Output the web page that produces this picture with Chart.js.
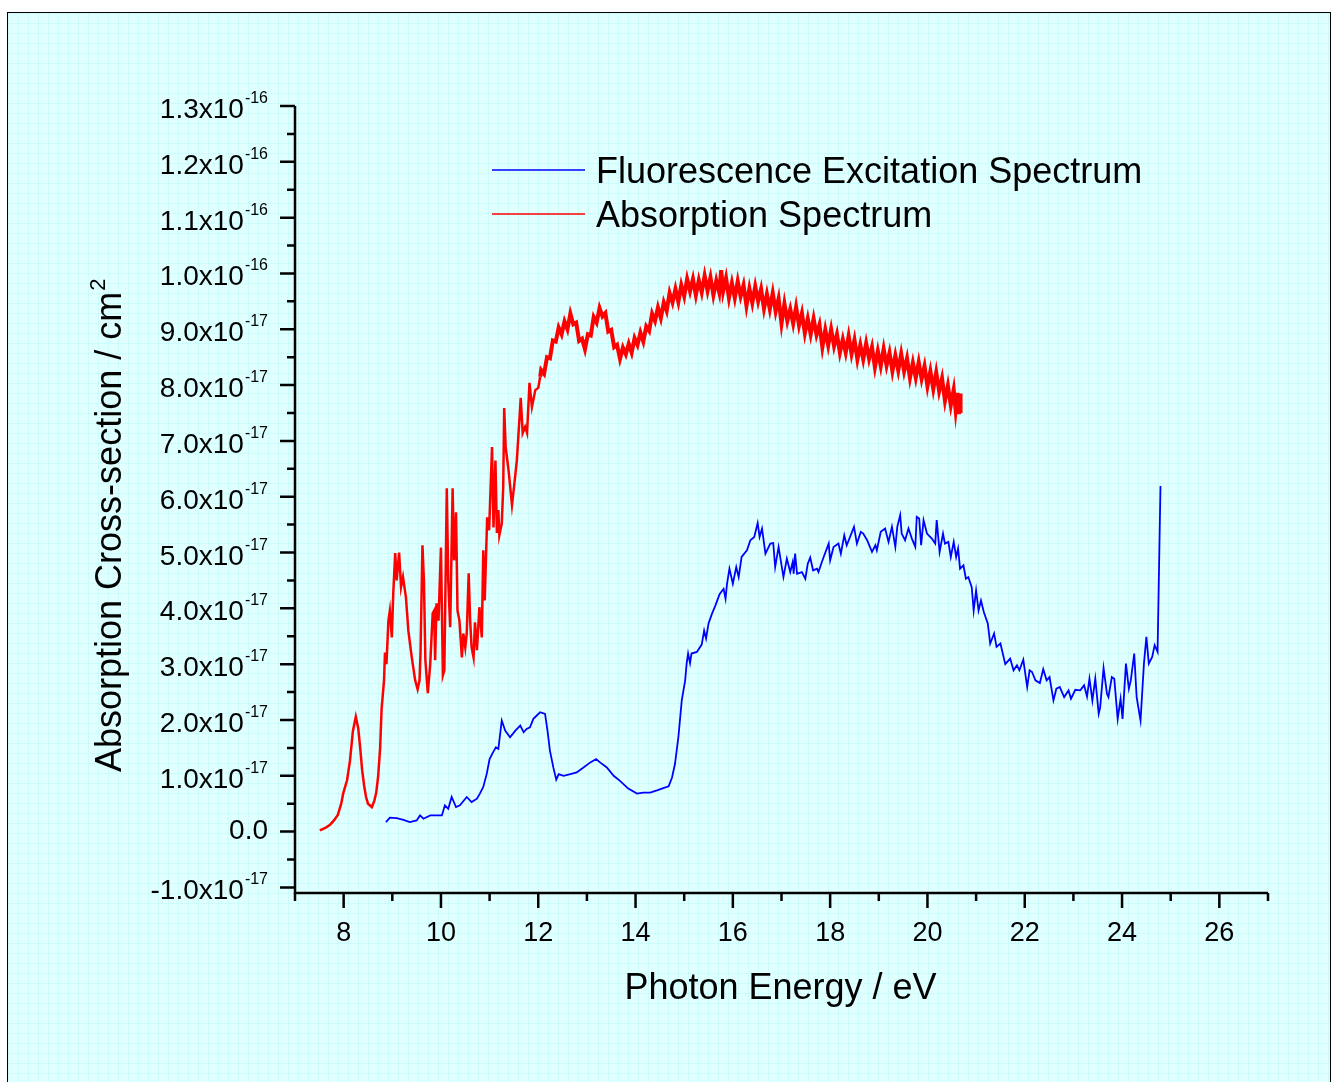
<!DOCTYPE html>
<html>
<head>
<meta charset="utf-8">
<script src="https://cdn.jsdelivr.net/npm/chart.js@4"></script>
<style>
  html, body { margin: 0; padding: 0; background: #fff; }
  #frame {
    position: absolute; left: 7px; top: 12px; width: 1322px; height: 1080px;
    border: 1px solid #000;
    background-color: #e0ffff;
    background-image:
      linear-gradient(to right, rgba(150, 240, 245, 0.25) 1px, transparent 1px),
      linear-gradient(to bottom, rgba(150, 240, 245, 0.25) 1px, transparent 1px);
    background-size: 10px 10px;
  }
  #plot { position: absolute; left: 0; top: 0; }
</style>
</head>
<body>
<div id="frame"></div>
<canvas id="plot" width="1332" height="1082"></canvas>
<script>
// cross-sections are listed in units of 1e-17 cm^2
const UNIT = 1e-17

const absEnergy = [
  7.51, 7.58, 7.65, 7.72, 7.80, 7.88, 7.95, 7.99, 8.03, 8.07, 8.13, 8.19, 8.25, 8.30, 8.34, 8.38,
  8.42, 8.46, 8.50, 8.58, 8.63, 8.67, 8.71, 8.75, 8.78, 8.80,
  8.83, 8.85, 8.88, 8.92, 8.95, 8.99, 9.02, 9.06, 9.09, 9.14, 9.18, 9.22, 9.28, 9.33, 9.40, 9.47,
  9.52, 9.56, 9.58, 9.62, 9.65, 9.68, 9.73, 9.78, 9.83, 9.86, 9.88, 9.91, 9.95, 10.00, 10.04, 10.07,
  10.12, 10.15, 10.19, 10.24, 10.27, 10.31, 10.34, 10.38, 10.43, 10.46, 10.50, 10.53, 10.57, 10.60,
  10.63, 10.67, 10.70, 10.74, 10.79, 10.84, 10.87, 10.90, 10.95, 10.99, 11.05, 11.08, 11.12, 11.15,
  11.18, 11.20, 11.25, 11.28, 11.30, 11.33, 11.39, 11.46, 11.51, 11.56, 11.59, 11.64, 11.68, 11.73,
  11.77, 11.82, 11.87, 11.94, 12.00, 12.04,
  12.06, 12.12, 12.18, 12.24, 12.30, 12.36, 12.42, 12.48, 12.54, 12.60, 12.66, 12.72, 12.78, 12.84,
  12.90, 12.96, 13.02, 13.08, 13.14, 13.20, 13.26, 13.32, 13.38, 13.44, 13.50, 13.56, 13.62, 13.68,
  13.74, 13.80, 13.86, 13.92, 13.98, 14.04, 14.10, 14.16, 14.22, 14.28, 14.34, 14.40, 14.46, 14.52,
  14.58, 14.64, 14.70, 14.76, 14.82, 14.88, 14.94, 15.00, 15.06, 15.12, 15.18, 15.24, 15.30, 15.36,
  15.42, 15.48, 15.54, 15.60, 15.66, 15.72, 15.76, 15.80, 15.86, 15.92, 15.98, 16.04, 16.10, 16.16,
  16.22, 16.28, 16.34, 16.40, 16.46, 16.52, 16.58, 16.64, 16.70, 16.76, 16.82, 16.88, 16.94, 17.00,
  17.06, 17.12, 17.18, 17.24, 17.30, 17.36, 17.42, 17.48, 17.54, 17.60, 17.66, 17.72, 17.78, 17.84,
  17.90, 17.96, 18.02, 18.08, 18.14, 18.20, 18.26, 18.32, 18.38, 18.44, 18.50, 18.56, 18.62, 18.68,
  18.74, 18.80, 18.86, 18.92, 18.98, 19.04, 19.10, 19.16, 19.22, 19.28, 19.34, 19.40, 19.46, 19.52,
  19.58, 19.64, 19.70, 19.76, 19.82, 19.88, 19.94, 20.00, 20.06, 20.12, 20.18, 20.24, 20.30, 20.36,
  20.42, 20.48, 20.54, 20.58, 20.62, 20.65, 20.67, 20.68
]

const absSigma = [
  0.02, 0.05, 0.08, 0.12, 0.20, 0.30, 0.50, 0.68, 0.80, 0.92, 1.27, 1.80, 2.06, 1.85, 1.50, 1.10,
  0.83, 0.62, 0.50, 0.44, 0.55, 0.70, 1.00, 1.50, 2.20, 2.40,
  2.71, 3.21, 3.00, 3.78, 3.96, 3.48, 4.27, 4.99, 4.50, 5.00, 4.38, 4.56, 4.20, 3.60, 3.12, 2.71,
  2.55, 2.71, 3.19, 5.13, 4.50, 3.07, 2.48, 3.01, 3.91, 3.96, 3.07, 4.09, 3.78, 5.09, 2.80, 2.89,
  6.15, 4.50, 3.66, 6.15, 4.86, 5.72, 3.96, 3.78, 3.12, 3.55, 3.30, 3.55, 4.63, 3.78,
  3.30, 3.12, 3.75, 3.25, 4.02, 3.48, 5.04, 4.14, 5.63, 5.40, 6.89, 5.45, 6.65, 5.35,
  5.76, 5.31, 5.52, 6.17, 7.59, 6.89, 6.47, 5.85, 6.24, 6.65, 7.07, 7.77, 7.14, 7.25,
  7.14, 8.04, 7.61, 7.91, 7.95, 8.15,
  8.27, 8.20, 8.50, 8.48, 8.80, 8.78, 9.03, 8.91, 9.14, 9.00, 9.28, 9.09, 9.12, 8.79,
  8.83, 8.64, 8.91, 8.89, 9.22, 9.12, 9.38, 9.23, 9.29, 8.96, 8.99, 8.68, 8.72, 8.47,
  8.67, 8.55, 8.74, 8.58, 8.84, 8.72, 8.94, 8.78, 9.05, 8.97, 9.28, 9.15, 9.39, 9.20,
  9.48, 9.33, 9.65, 9.48, 9.72, 9.49, 9.79, 9.59, 9.90, 9.68, 9.90, 9.61, 9.88, 9.66,
  9.96, 9.69, 9.93, 9.61, 9.87, 9.66, 10.06, 9.68, 9.92, 9.56, 9.83, 9.56, 9.86, 9.59,
  9.79, 9.42, 9.73, 9.47, 9.77, 9.50, 9.72, 9.37, 9.63, 9.36, 9.65, 9.32, 9.55, 9.10,
  9.46, 9.15, 9.36, 9.10, 9.40, 9.07, 9.29, 8.93, 9.19, 8.91, 9.19, 8.90, 9.08, 8.68,
  8.99, 8.71, 9.00, 8.70, 8.91, 8.58, 8.82, 8.58, 8.88, 8.56, 8.81, 8.46, 8.72, 8.46,
  8.75, 8.47, 8.68, 8.32, 8.61, 8.34, 8.65, 8.35, 8.58, 8.25, 8.53, 8.26, 8.56, 8.25,
  8.48, 8.13, 8.40, 8.13, 8.41, 8.11, 8.34, 7.98, 8.25, 7.93, 8.23, 7.89, 8.12, 7.72,
  7.99, 7.64, 7.92, 7.55, 7.86, 7.48, 7.85, 7.50
]

const fluorEnergy = [
  8.87, 8.95, 9.09, 9.23, 9.36, 9.50, 9.57, 9.64, 9.78, 9.92, 10.02, 10.08, 10.15, 10.22, 10.31,
  10.39, 10.53, 10.63, 10.74, 10.80, 10.87, 10.94, 11.00, 11.07, 11.13, 11.18, 11.25, 11.32, 11.42,
  11.53, 11.63, 11.70, 11.76, 11.83, 11.90, 11.97, 12.04, 12.14, 12.19, 12.24, 12.31, 12.37, 12.42,
  12.52, 12.66, 12.79, 12.93, 13.07, 13.19, 13.27, 13.41, 13.55, 13.68, 13.85, 14.03, 14.16, 14.30,
  14.44, 14.57, 14.68, 14.75, 14.81, 14.88, 14.95, 15.02, 15.05, 15.08, 15.12, 15.15, 15.26, 15.36,
  15.41, 15.45, 15.50, 15.57, 15.64, 15.73, 15.81, 15.85, 15.88, 15.93, 16.00, 16.07, 16.12, 16.18,
  16.29, 16.36, 16.44, 16.51, 16.55, 16.60, 16.67, 16.77, 16.83, 16.87, 16.94, 17.04, 17.11, 17.18,
  17.23, 17.25, 17.28, 17.32, 17.42, 17.49, 17.54, 17.59, 17.65, 17.73, 17.76, 17.83, 17.88, 17.97,
  18.00, 18.07, 18.17, 18.22, 18.29, 18.34, 18.41, 18.49, 18.55, 18.63, 18.68, 18.76, 18.86, 18.93,
  18.96, 19.04, 19.13, 19.20, 19.27, 19.34, 19.38, 19.44, 19.47, 19.54, 19.61, 19.68, 19.75, 19.78,
  19.83, 19.87, 19.92, 19.99, 20.09, 20.16, 20.19, 20.25, 20.32, 20.36, 20.43, 20.48, 20.54, 20.59,
  20.63, 20.67, 20.74, 20.79, 20.84, 20.91, 20.95, 21.00, 21.05, 21.10, 21.16, 21.24, 21.29, 21.37,
  21.42, 21.50, 21.60, 21.70, 21.77, 21.84, 21.89, 21.97, 22.05, 22.10, 22.15, 22.22, 22.31, 22.38,
  22.45, 22.51, 22.59, 22.65, 22.72, 22.81, 22.90, 22.95, 23.04, 23.14, 23.22, 23.28, 23.33, 23.39,
  23.45, 23.52, 23.55, 23.62, 23.69, 23.72, 23.79, 23.84, 23.91, 23.97, 24.01, 24.08, 24.14, 24.18,
  24.25, 24.30, 24.38, 24.45, 24.50, 24.55, 24.62, 24.67, 24.73, 24.79
]

const fluorSigma = [
  0.17, 0.25, 0.24, 0.21, 0.17, 0.20, 0.29, 0.23, 0.29, 0.29, 0.29, 0.47, 0.41, 0.62, 0.44,
  0.47, 0.62, 0.53, 0.59, 0.68, 0.80, 1.03, 1.30, 1.42, 1.51, 1.48, 1.99, 1.81, 1.69,
  1.81, 1.90, 1.78, 1.84, 1.87, 2.02, 2.08, 2.14, 2.11, 1.81, 1.45, 1.15, 0.93, 1.03,
  1.00, 1.03, 1.06, 1.15, 1.24, 1.30, 1.24, 1.15, 1.00, 0.91, 0.77, 0.68, 0.70, 0.70,
  0.74, 0.78, 0.81, 0.97, 1.21, 1.69, 2.35, 2.71, 3.01, 3.19, 3.02, 3.19, 3.22, 3.35,
  3.60, 3.46, 3.73, 3.90, 4.05, 4.26, 4.35, 4.17, 4.44, 4.71, 4.44, 4.74, 4.56, 4.92,
  5.04, 5.22, 5.28, 5.53, 5.28, 5.43, 4.98, 5.16, 5.17, 4.74, 5.10, 4.56, 4.89, 4.65,
  4.83, 4.62, 4.98, 4.62, 4.65, 4.53, 4.80, 4.91, 4.68, 4.71, 4.65, 4.83, 4.95, 5.16,
  4.86, 5.10, 5.16, 4.98, 5.31, 5.13, 5.28, 5.46, 5.16, 5.37, 5.34, 5.22, 5.01, 5.13,
  5.04, 5.37, 5.43, 5.19, 5.46, 5.10, 5.46, 5.67, 5.34, 5.22, 5.43, 5.25, 5.10, 5.64,
  5.61, 5.13, 5.58, 5.34, 5.25, 5.16, 5.58, 5.01, 5.34, 5.16, 5.19, 4.92, 5.19, 4.92,
  5.07, 4.71, 4.77, 4.53, 4.56, 4.38, 3.96, 4.32, 3.96, 4.14, 3.93, 3.73, 3.37, 3.55,
  3.31, 3.37, 3.00, 3.10, 2.89, 2.98, 2.89, 3.08, 2.59, 2.89, 2.86, 2.71, 2.66, 2.91,
  2.71, 2.77, 2.35, 2.56, 2.59, 2.41, 2.53, 2.38, 2.54, 2.53, 2.62, 2.42, 2.74, 2.35,
  2.74, 2.11, 2.22, 2.93, 2.47, 2.41, 2.77, 2.74, 2.02, 2.38, 2.02, 3.01, 2.56, 2.71,
  3.19, 2.41, 1.99, 3.01, 3.49, 3.01, 3.13, 3.34, 3.22, 6.19
]

const seriesNames = ['Fluorescence Excitation Spectrum', 'Absorption Spectrum']
const seriesColors = ['#0000ff', '#ff0000']
const xMajorTicks = [8, 10, 12, 14, 16, 18, 20, 22, 24, 26]
const xMinorTicks = [7, 9, 11, 13, 15, 17, 19, 21, 23, 25, 27]
const yMajorTicks = [-1, 0, 1, 2, 3, 4, 5, 6, 7, 8, 9, 10, 11, 12, 13]
const xTitle = 'Photon Energy / eV'
const yTitle = 'Absorption Cross-section / cm'

const toPoints = (xs, ys) => xs.map((e, i) => ({ x: e, y: ys[i] * UNIT }))

const FONT = '"Liberation Sans", Arial, sans-serif'

// "1.3x10^-16" style labels, split into mantissa and exponent
function yLabel(i) {
  if (i === 0) return ['0.0', '']
  if (Math.abs(i) >= 10) return [(i / 10).toFixed(1) + 'x10', '-16']
  return [i.toFixed(1) + 'x10', '-17']
}

const axesPlugin = {
  id: 'originAxes',
  afterDraw(chart) {
    const { ctx, chartArea: a, scales: { x, y } } = chart
    ctx.save()
    ctx.strokeStyle = '#000'
    ctx.fillStyle = '#000'
    ctx.lineWidth = 2.5
    ctx.lineCap = 'butt'

    ctx.beginPath()
    ctx.moveTo(a.left, a.top)
    ctx.lineTo(a.left, a.bottom)
    ctx.lineTo(a.right, a.bottom)
    ctx.stroke()

    // y ticks
    ctx.beginPath()
    yMajorTicks.forEach(i => {
      const py = y.getPixelForValue(i * UNIT)
      ctx.moveTo(a.left - 15, py); ctx.lineTo(a.left, py)
      if (i < 13) {
        const pm = y.getPixelForValue((i + 0.5) * UNIT)
        ctx.moveTo(a.left - 8, pm); ctx.lineTo(a.left, pm)
      }
    })
    // x ticks
    xMajorTicks.forEach(v => {
      const px = x.getPixelForValue(v)
      ctx.moveTo(px, a.bottom); ctx.lineTo(px, a.bottom + 15)
    })
    xMinorTicks.forEach(v => {
      const px = x.getPixelForValue(v)
      ctx.moveTo(px, a.bottom); ctx.lineTo(px, a.bottom + 8)
    })
    ctx.stroke()

    // y labels
    const right = a.left - 27
    ctx.textAlign = 'right'
    ctx.textBaseline = 'alphabetic'
    yMajorTicks.forEach(i => {
      const py = y.getPixelForValue(i * UNIT)
      const [main, sup] = yLabel(i)
      if (!sup) {
        ctx.font = '28px ' + FONT
        ctx.fillText(main, right, py + 7)
        return
      }
      ctx.font = '16px ' + FONT
      const sw = ctx.measureText(sup).width
      ctx.fillText(sup, right, py - 3)
      ctx.font = '28px ' + FONT
      ctx.fillText(main, right - sw - 1, py + 12)
    })

    // x labels
    ctx.textAlign = 'center'
    ctx.font = '27px ' + FONT
    xMajorTicks.forEach(v => {
      ctx.fillText(String(v), x.getPixelForValue(v), a.bottom + 48)
    })

    // axis titles
    ctx.font = '36px ' + FONT
    ctx.fillText(xTitle, (a.left + a.right) / 2 - 1, a.bottom + 106)

    ctx.save()
    ctx.translate(121, 772)
    ctx.rotate(-Math.PI / 2)
    ctx.textAlign = 'left'
    ctx.font = '36px ' + FONT
    ctx.fillText(yTitle, 0, 0)
    const tw = ctx.measureText(yTitle).width
    ctx.font = '22px ' + FONT
    ctx.fillText('2', tw + 1, -16)
    ctx.restore()

    // legend
    ctx.textAlign = 'left'
    ctx.font = '36px ' + FONT
    ctx.lineWidth = 1.5
    seriesNames.forEach((name, k) => {
      const ly = 170 + k * 44
      ctx.strokeStyle = seriesColors[k]
      ctx.beginPath()
      ctx.moveTo(492, ly); ctx.lineTo(585, ly)
      ctx.stroke()
      ctx.fillText(name, 596, ly + 13)
    })
    ctx.restore()
  }
}

new Chart(document.getElementById('plot'), {
  type: 'line',
  data: {
    datasets: [
      {
        label: seriesNames[0],
        data: toPoints(fluorEnergy, fluorSigma),
        borderColor: seriesColors[0],
        borderWidth: 1.8,
        pointRadius: 0,
        tension: 0
      },
      {
        label: seriesNames[1],
        data: toPoints(absEnergy, absSigma),
        borderColor: seriesColors[1],
        borderWidth: 2.5,
        pointRadius: 0,
        tension: 0,
        // the noisy continuum above 12 eV reads as a thick band
        segment: { borderWidth: c => (c.p0.parsed.x >= 12.04 ? 4 : 2.5) }
      }
    ]
  },
  options: {
    responsive: false,
    animation: false,
    events: [],
    layout: { padding: { left: 295, top: 106, right: 64, bottom: 189 } },
    plugins: { legend: { display: false }, tooltip: { enabled: false } },
    scales: {
      x: { type: 'linear', min: 7, max: 27, display: false },
      y: { type: 'linear', min: -1.1 * UNIT, max: 13 * UNIT, display: false }
    }
  },
  plugins: [axesPlugin]
})
</script>
</body>
</html>
